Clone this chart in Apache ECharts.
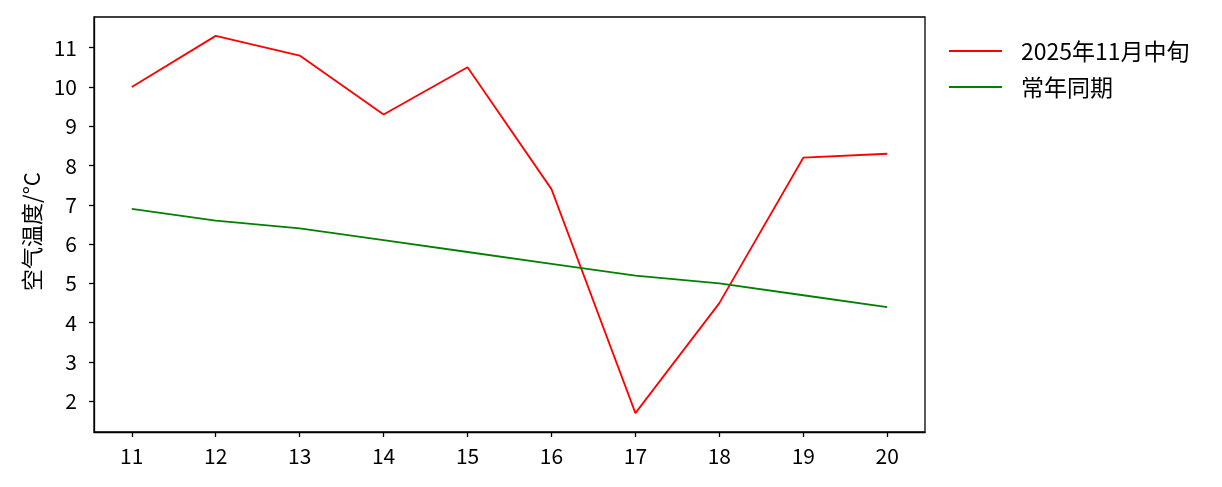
<!DOCTYPE html>
<html>
<head>
<meta charset="utf-8">
<script src="https://cdn.jsdelivr.net/npm/echarts@6/dist/echarts.min.js"></script>
<style>
  html, body { margin: 0; padding: 0; background: #fff; }
  #chart { width: 1222px; height: 487px; }
</style>
</head>
<body>
<div id="chart"></div>
<script>
  // 日期 (11月)
  const days = [11, 12, 13, 14, 15, 16, 17, 18, 19, 20]
  const thisYear = [10.0, 11.3, 10.8, 9.3, 10.5, 7.4, 1.7, 4.5, 8.2, 8.3]
  const normal = [6.9, 6.6, 6.4, 6.1, 5.8, 5.5, 5.2, 5.0, 4.7, 4.4]
  const yTicks = [2, 3, 4, 5, 6, 7, 8, 9, 10, 11]

  const font = 'Noto Sans CJK SC'
  const chart = echarts.init(document.getElementById('chart'))

  chart.setOption({
    animation: false,
    textStyle: { fontFamily: font, color: '#000' },
    grid: {
      left: 94, top: 17, right: 297, bottom: 55,
      show: true, borderColor: '#000', borderWidth: 1.3
    },
    legend: {
      orient: 'vertical',
      left: 944,
      top: 34,
      itemWidth: 53,
      itemHeight: 2,
      itemGap: 12,
      icon: 'rect',
      textStyle: { fontFamily: font, fontSize: 23, lineHeight: 24, color: '#000', padding: [0, 0, 0, 14] },
      data: ['2025年11月中旬', '常年同期']
    },
    xAxis: {
      type: 'value',
      min: 10.55,
      max: 20.45,
      splitLine: { show: false },
      axisLine: { lineStyle: { color: '#000', width: 1.3 } },
      axisTick: { customValues: days, length: 5, lineStyle: { color: '#000', width: 1.3 } },
      axisLabel: { customValues: days, fontSize: 21, color: '#000', margin: 14, fontFamily: font }
    },
    yAxis: {
      type: 'value',
      min: 1.22,
      max: 11.78,
      name: '空气温度/°C',
      nameLocation: 'middle',
      nameGap: 51,
      nameTextStyle: { fontSize: 22, color: '#000', fontFamily: font, padding: [0, 14, 0, 0] },
      splitLine: { show: false },
      axisLine: { show: true, lineStyle: { color: '#000', width: 1.3 } },
      axisTick: { show: true, customValues: yTicks, length: 5, lineStyle: { color: '#000', width: 1.3 } },
      axisLabel: { customValues: yTicks, fontSize: 21, color: '#000', margin: 17, fontFamily: font }
    },
    series: [
      {
        name: '2025年11月中旬',
        type: 'line',
        data: days.map((d, i) => [d, thisYear[i]]),
        showSymbol: false,
        color: '#ff0000',
        lineStyle: { color: '#ff0000', width: 1.8 }
      },
      {
        name: '常年同期',
        type: 'line',
        data: days.map((d, i) => [d, normal[i]]),
        showSymbol: false,
        color: '#008000',
        lineStyle: { color: '#008000', width: 1.8 }
      }
    ]
  })
</script>
</body>
</html>
